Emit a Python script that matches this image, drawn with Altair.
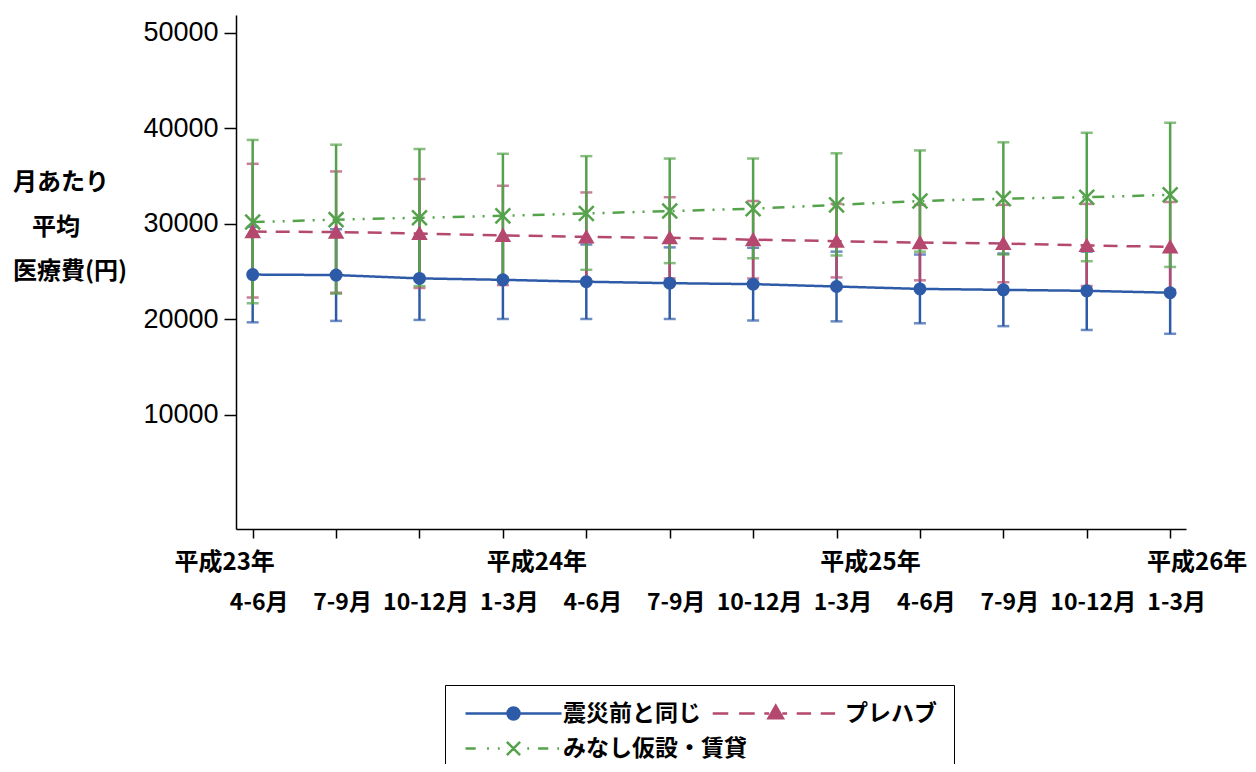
import json
import altair as alt
import pandas as pd

# ---------------- data ----------------
periods = ["4-6月", "7-9月", "10-12月", "1-3月", "4-6月", "7-9月",
           "10-12月", "1-3月", "4-6月", "7-9月", "10-12月", "1-3月"]
years = ["平成23年", "平成24年", "平成25年", "平成26年"]
year_idx = [0, 3, 7, 11]
series = ["震災前と同じ", "プレハブ", "みなし仮設・賃貸"]
ytitle_lines = ["月あたり", "平均", "医療費(円)"]

blue_mean = [24700, 24650, 24300, 24150, 23950, 23800, 23700, 23450, 23200, 23100, 23000, 22800]
blue_lo = [19700, 19850, 19950, 20050, 20050, 20050, 19900, 19800, 19600, 19300, 18900, 18500]
blue_hi = [29700, 29450, 28650, 28250, 27850, 27550, 27500, 27100, 26800, 26900, 27100, 27100]

red_mean = [29200, 29150, 29000, 28800, 28650, 28550, 28350, 28200, 28050, 27950, 27750, 27600]
red_lo = [22300, 22800, 23300, 23600, 24000, 24300, 24300, 24400, 24100, 23900, 23500, 23100]
red_hi = [36300, 35500, 34700, 34000, 33300, 32800, 32400, 32100, 32000, 32000, 32100, 32300]

green_mean = [30200, 30450, 30650, 30850, 31100, 31350, 31600, 32000, 32400, 32650, 32800, 33050]
green_lo = [21700, 22700, 23500, 24400, 25200, 25900, 26400, 26700, 27100, 26800, 26100, 25500]
green_hi = [38800, 38300, 37850, 37350, 37100, 36850, 36850, 37400, 37700, 38550, 39550, 40600]

colors = ["#2E5BA8", "#B4486E", "#55A24C"]

rows = []
for name, m, lo, hi in [(series[0], blue_mean, blue_lo, blue_hi),
                        (series[1], red_mean, red_lo, red_hi),
                        (series[2], green_mean, green_lo, green_hi)]:
    for i in range(len(periods)):
        rows.append({"idx": i, "series": name, "mean": m[i], "lo": lo[i], "hi": hi[i]})
df = pd.DataFrame(rows)
year_df = pd.DataFrame({"idx": year_idx, "label": years})
ytitle_df = pd.DataFrame({"k": list(range(len(ytitle_lines))), "label": ytitle_lines})

# ---------------- styles ----------------
JP = "Noto Sans CJK JP"
color_scale = alt.Scale(domain=series, range=colors)

xaxis = alt.Axis(
    values=list(range(12)),
    labelExpr=json.dumps(periods, ensure_ascii=False) + "[datum.value]",
    title=None, grid=False, labelOverlap=False, labelFlush=False,
    labelFont=JP, labelFontSize=23, labelFontWeight="bold", labelColor="black",
    labelPadding=53, labelOffset=6,
    tickSize=9, tickWidth=1.5, tickColor="black",
    domainColor="black", domainWidth=1.5,
)
X = alt.X("idx:Q", scale=alt.Scale(domain=[-0.2, 11.19], nice=False, zero=False), axis=xaxis)

yaxis = alt.Axis(
    values=[10000, 20000, 30000, 40000, 50000], format="d", title=None,
    grid=False, labelOverlap=False,
    labelFont="Liberation Sans", labelFontSize=27, labelColor="black", labelPadding=6,
    tickSize=12, tickWidth=1.5, tickColor="black",
    domainColor="black", domainWidth=1.5,
)
yscale = alt.Scale(domain=[-1940, 51880], nice=False, zero=False)


def Y(field):
    return alt.Y(field, scale=yscale, axis=yaxis)


# legend symbol paths (line + marker)
p_blue = "M-8,0L8,0M-1,0A1,1,0,1,0,1,0A1,1,0,1,0,-1,0Z"
p_red = ("M-13.8,0L-11.2,0M-9.4,0L-6.8,0M-5.2,0L-4.4,0M-2.2,0L-1.4,0M0.2,0L2.6,0M4.2,0L6.6,0"
         "M-3.3,-1.3L-2.1,0.8L-4.5,0.8Z")
p_green = ("M-8,0L-6.3,0M-4.4,0L-4.1,0M-2.6,0L-2.3,0M2.3,0L2.6,0"
           "M4.1,0L5.8,0M7.3,0L7.6,0M-1.1,-1.1L1.1,1.1M-1.1,1.1L1.1,-1.1")

legend = alt.Legend(
    title=None, orient="none", legendX=209, legendY=670,
    direction="horizontal", columns=2, gridAlign="none",
    labelFont=JP, labelFontSize=23, labelFontWeight="bold", labelColor="black",
    labelLimit=400, labelOffset=38,
    symbolSize=144, symbolStrokeWidth=2.5, symbolOffset=40, symbolOpacity=1,
    strokeColor="black", fillColor="white", padding=17,
    rowPadding=10, columnPadding=-40,
)

base = alt.Chart(df)
dashes = [[1, 0], [14, 9], [12, 8, 2, 8, 2, 8]]
shapes = ["circle", "triangle-up", "M-1,-1L1,1M-1,1L1,-1"]
sizes = [110, 150, 220]

bar_layers, line_layers, pt_layers = [], [], []
for k, name in enumerate(series):
    sub = base.transform_filter(alt.datum.series == name)
    bar_layers.append(sub.mark_errorbar(ticks=True, size=12, thickness=2.5, color=colors[k]).encode(
        x=X, y=Y("lo:Q"), y2="hi:Q"))
    line_layers.append(sub.mark_line(strokeWidth=2.5, color=colors[k], strokeDash=dashes[k]).encode(
        x=X, y=Y("mean:Q")))
    pt_layers.append(sub.mark_point(filled=True, shape=shapes[k], size=sizes[k], strokeWidth=2.5,
                                    opacity=1, fill=colors[k], stroke=colors[k]).encode(
        x=X, y=Y("mean:Q")))

# legend-only layer: its marks sit outside the clipped plot area, only the legend shows
leg = base.mark_point(filled=True, opacity=1, strokeWidth=2.5, clip=True).encode(
    x=X,
    y=alt.value(-200),
    color=alt.Color("series:N", scale=color_scale, legend=legend),
    stroke=alt.Stroke("series:N", scale=color_scale, legend=legend),
    shape=alt.Shape("series:N", scale=alt.Scale(domain=series, range=[p_blue, p_red, p_green]),
                    legend=legend),
)

ytext = alt.Chart(year_df)
txt = dict(font=JP, fontSize=24, fontWeight="bold", color="black", align="center", baseline="middle")
year_first = ytext.transform_filter("datum.idx == 0").mark_text(dx=-28, **txt).encode(
    x=X, y=alt.value(548), text="label:N")
year_mid = ytext.transform_filter("datum.idx > 0 && datum.idx < 11").mark_text(dx=34, **txt).encode(
    x=X, y=alt.value(548), text="label:N")
year_last = ytext.transform_filter("datum.idx == 11").mark_text(dx=27, **txt).encode(
    x=X, y=alt.value(548), text="label:N")

# y-axis title, three lines
tt = alt.Chart(ytitle_df)
ttxt = dict(font=JP, fontSize=24, fontWeight="bold", color="black", align="left", baseline="middle")
yt1 = tt.transform_filter("datum.k == 0").mark_text(**ttxt).encode(
    x=alt.value(-223), y=alt.value(168), text="label:N")
yt2 = tt.transform_filter("datum.k == 1").mark_text(**ttxt).encode(
    x=alt.value(-204), y=alt.value(213), text="label:N")
yt3 = tt.transform_filter("datum.k == 2").mark_text(**ttxt).encode(
    x=alt.value(-223), y=alt.value(257), text="label:N")

chart = alt.layer(*bar_layers, *line_layers, *pt_layers, leg,
                  year_first, year_mid, year_last, yt1, yt2, yt3).properties(
    width=950, height=514,
    autosize=alt.AutoSizeParams(type="none"),
    padding={"left": 228, "top": 7, "right": 62, "bottom": 235},
    background="white",
).configure_view(stroke=None)

chart.save("out.html", embed_options={"renderer": "svg", "actions": False})
